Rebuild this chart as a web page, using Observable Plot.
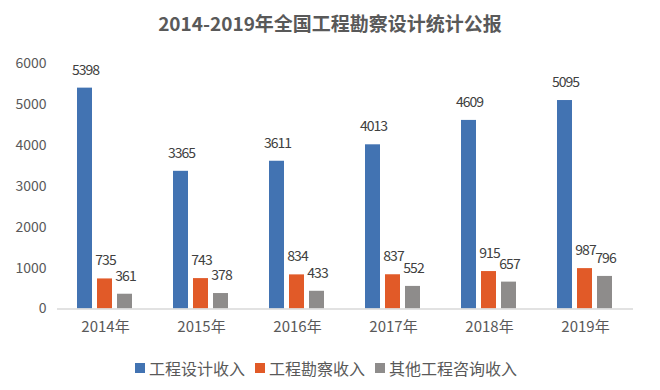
<!DOCTYPE html>
<html><head><meta charset="utf-8">
<script src="https://cdn.jsdelivr.net/npm/d3@7"></script>
<script src="https://cdn.jsdelivr.net/npm/@observablehq/plot@0.6"></script>
<style>
body{margin:0;background:#fff;font-family:"Noto Sans CJK SC","Noto Sans",sans-serif;}
#wrap{width:660px;}
#title{height:46px;line-height:46px;text-align:center;font-size:19px;font-weight:bold;color:#595959;}
#chart svg{display:block;}
#chart .vlabels text{letter-spacing:-1px;}
#legend{height:44px;display:flex;justify-content:center;align-items:center;font-size:16px;color:#595959;padding-right:8px;}
.item{display:flex;align-items:center;margin:0 5px;}
.sw{width:10px;height:10px;margin-right:4px;}
</style></head>
<body><div id="wrap"><div id="title">2014-2019年全国工程勘察设计统计公报</div><div id="chart"></div><div id="legend"></div></div>
<script>
const years = ["2014年","2015年","2016年","2017年","2018年","2019年"];
const seriesNames = ["工程设计收入","工程勘察收入","其他工程咨询收入"];
const designIncome = [5398,3365,3611,4013,4609,5095];
const surveyIncome = [735,743,834,837,915,987];
const otherIncome = [361,378,433,552,657,796];
const seriesColors = ["#4273B2","#E15A28","#8E8C8B"];
const yTicks = [0,1000,2000,3000,4000,5000,6000];

const seriesArrays = [designIncome, surveyIncome, otherIncome];
const data = years.flatMap((yr,i)=>seriesArrays.map((arr,j)=>({year:yr, series:seriesNames[j], value:arr[i]})));

const plot = Plot.plot({
  width:660, height:300,
  marginTop:17, marginBottom:37.5, marginLeft:56, marginRight:27,
  style:{fontFamily:'"Noto Sans CJK SC","Noto Sans",sans-serif', color:"#595959", background:"white"},
  fx:{domain:years, padding:0, label:null, axis:null},
  x:{domain:seriesNames, axis:null, paddingInner:0.238, paddingOuter:0.91},
  y:{domain:[0,6000], axis:null},
  color:{domain:seriesNames, range:seriesColors},
  marks:[
    Plot.axisY({ticks:yTicks, tickFormat:d3.format("d"), tickSize:0, tickPadding:11, fontSize:14, label:null, fill:"#595959"}),
    Plot.axisFx({anchor:"bottom", tickSize:0, tickPadding:12, fontSize:15, label:null, fill:"#595959"}),
    Plot.barY(data,{fx:"year", x:"series", y:"value", fill:"series"}),
    Plot.ruleY([0],{stroke:"#d9d9d9", strokeWidth:1.5}),
    Plot.text(data,{fx:"year", x:"series", y:"value", text:d=>String(d.value), dy:-18, dx:0.5, fontSize:14,
      className:"vlabels", fill:"#404040"})
  ]
});
document.getElementById("chart").appendChild(plot);

const legend = document.getElementById("legend");
seriesNames.forEach((name,i)=>{
  const item = document.createElement("div");
  item.className = "item";
  const sw = document.createElement("div");
  sw.className = "sw";
  sw.style.background = seriesColors[i];
  const label = document.createElement("span");
  label.textContent = name;
  item.appendChild(sw);
  item.appendChild(label);
  legend.appendChild(item);
});
</script>
</body></html>
